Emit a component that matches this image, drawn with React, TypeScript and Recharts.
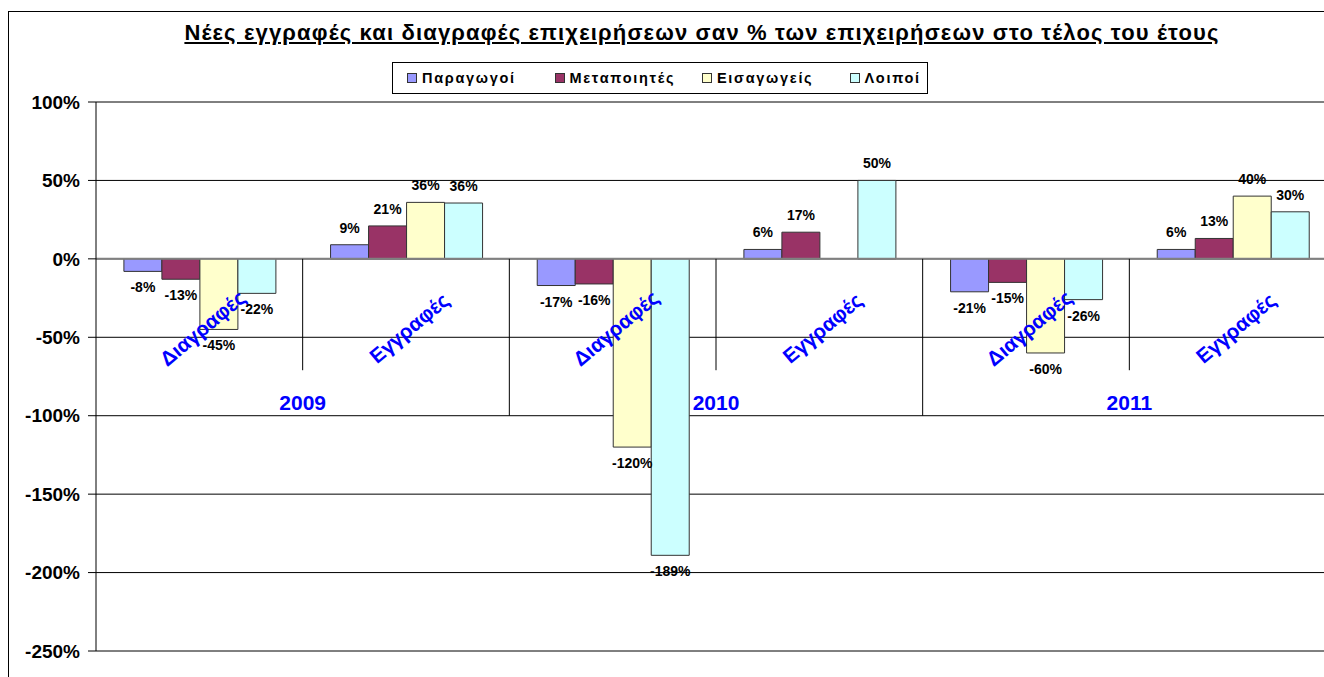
import {
  BarChart,
  Bar,
  XAxis,
  YAxis,
  CartesianGrid,
  ReferenceLine,
  ReferenceDot,
  LabelList,
  Legend,
} from 'recharts'

const TITLE =
  'Νέες εγγραφές και διαγραφές επιχειρήσεων σαν % των επιχειρήσεων στο τέλος του έτους'

const YEARS = ['2009', '2010', '2011']
const KINDS = ['Διαγραφές', 'Εγγραφές']

// one value per (year, kind), in the order 2009-Δ, 2009-Ε, 2010-Δ, ...
const PARAGOGOI = [-8, 9, -17, 6, -21, 6]
const METAPOIITES = [-13, 21, -16, 17, -15, 13]
const EISAGOGEIS = [-45, 36, -120, null, -60, 40]
const LOIPOI = [-22, 35.6, -189, 50, -26, 30]

const Y_TICKS = [100, 50, 0, -50, -100, -150, -200, -250]

const SERIES = [
  { key: 'paragogoi', name: 'Παραγωγοί', color: '#9999FF', values: PARAGOGOI },
  { key: 'metapoiites', name: 'Μεταποιητές', color: '#993366', values: METAPOIITES },
  { key: 'eisagogeis', name: 'Εισαγωγείς', color: '#FFFFCC', values: EISAGOGEIS },
  { key: 'loipoi', name: 'Λοιποί', color: '#CCFFFF', values: LOIPOI },
]

const data = YEARS.flatMap((year, yi) =>
  KINDS.map((kind, ki) => {
    const i = yi * KINDS.length + ki
    const row: Record<string, any> = { id: `${year}-${kind}`, kind, year, pos: i + 0.5 }
    SERIES.forEach((s) => {
      row[s.key] = s.values[i]
    })
    return row
  })
)

const FONT = '"Liberation Sans", Arial, sans-serif'
const BLUE = '#0000FF'

function ValueLabel(props: any) {
  const { x, y, width, height, value } = props
  if (value === null || value === undefined) return null
  const top = Math.min(y, y + height)
  const bottom = Math.max(y, y + height)
  const ty = value >= 0 ? top - 12 : bottom + 21
  return (
    <text
      x={x + width / 2}
      y={ty}
      textAnchor="middle"
      fontFamily={FONT}
      fontWeight="bold"
      fontSize={14}
      fill="#000"
    >
      {Math.round(value)}%
    </text>
  )
}

// legend keeps the series order (recharts sorts by name otherwise)
function LegendBox() {
  return (
    <div
      style={{
        display: 'flex',
        alignItems: 'center',
        width: 520,
        border: '1px solid #000',
        padding: '0 0 0 14px',
        height: 30,
        background: '#fff',
        fontFamily: FONT,
        fontWeight: 'bold',
        fontSize: 14.5,
        letterSpacing: 1.7,
        color: '#000',
      }}
    >
      {SERIES.map((s, i) => (
        <div
          key={s.key}
          style={{
            display: 'flex',
            alignItems: 'center',
            gap: 5,
            flex: 'none',
            width: i < SERIES.length - 1 ? 147.5 : 'auto',
            whiteSpace: 'nowrap',
          }}
        >
          <span
            style={{
              width: 8,
              height: 8,
              background: s.color,
              border: '1px solid #333',
              display: 'inline-block',
              flex: 'none',
            }}
          />
          <span>{s.name}</span>
        </div>
      ))}
    </div>
  )
}

export default function App() {
  return (
    <div
      style={{
        position: 'absolute',
        left: 0,
        top: 0,
        width: 1324,
        height: 677,
        overflow: 'hidden',
        background: '#fff',
      }}
    >
      <div
        style={{
          position: 'absolute',
          left: 8,
          top: 11,
          width: 1400,
          height: 700,
          borderLeft: '1px solid #000',
          borderTop: '1px solid #000',
        }}
      />
      <div
        style={{
          position: 'absolute',
          left: 0,
          top: 20,
          width: 1404,
          textAlign: 'center',
          fontFamily: FONT,
          fontWeight: 'bold',
          fontSize: 22,
          letterSpacing: 1.15,
          textDecoration: 'underline',
          color: '#000',
        }}
      >
        {TITLE}
      </div>
      <div style={{ position: 'absolute', left: 0, top: 0 }}>
        <BarChart
          width={1336}
          height={677}
          data={data}
          margin={{ top: 102, right: 0, bottom: 26, left: 0 }}
          barCategoryGap="13.5%"
          barGap={0}
        >
          <CartesianGrid horizontal vertical={false} stroke="#000" />
          <XAxis dataKey="id" hide />
          <XAxis
            xAxisId="num"
            dataKey="pos"
            type="number"
            domain={[0, 6]}
            allowDataOverflow
            hide
          />
          <YAxis
            width={96}
            domain={[-250, 100]}
            ticks={Y_TICKS}
            interval={0}
            allowDataOverflow
            tickFormatter={(v) => `${v}%`}
            axisLine={{ stroke: '#000' }}
            tickLine={{ stroke: '#000' }}
            tickSize={8}
            tickMargin={8}
            tick={{ fill: '#000', fontFamily: FONT, fontWeight: 'bold', fontSize: 19 }}
          />
          <Legend
            verticalAlign="middle"
            content={<LegendBox />}
            wrapperStyle={{ left: 392, top: 62, width: 'auto', height: 'auto' }}
          />
          {SERIES.map((s) => (
            <Bar
              key={s.key}
              dataKey={s.key}
              name={s.name}
              fill={s.color}
              stroke="#333"
              strokeWidth={1}
              isAnimationActive={false}
            >
              <LabelList dataKey={s.key} content={<ValueLabel />} />
            </Bar>
          ))}
          <ReferenceLine y={0} stroke="#808080" strokeWidth={2} />
          {[1, 2, 3, 4, 5].map((b) => (
            <ReferenceLine
              key={b}
              xAxisId="num"
              segment={[
                { x: b, y: 0 },
                { x: b, y: b % 2 === 0 ? -100 : -71 },
              ]}
              stroke="#000"
            />
          ))}
          {data.map((row) => (
            <ReferenceDot
              key={row.id}
              x={row.id}
              y={-44}
              r={0}
              shape={(p: any) => (
                <text
                  x={p.cx + 3}
                  y={p.cy}
                  transform={`rotate(-40 ${p.cx + 3} ${p.cy})`}
                  textAnchor="middle"
                  dominantBaseline="central"
                  fontFamily={FONT}
                  fontWeight="bold"
                  fontSize={20.5}
                  fill={BLUE}
                >
                  {row.kind}
                </text>
              )}
            />
          ))}
          {YEARS.map((year, yi) => (
            <ReferenceDot
              key={year}
              xAxisId="num"
              x={yi * 2 + 1}
              y={-91.5}
              r={0}
              shape={(p: any) => (
                <text
                  x={p.cx}
                  y={p.cy}
                  textAnchor="middle"
                  dominantBaseline="central"
                  fontFamily={FONT}
                  fontWeight="bold"
                  fontSize={21}
                  fill={BLUE}
                >
                  {year}
                </text>
              )}
            />
          ))}
        </BarChart>
      </div>
    </div>
  )
}
